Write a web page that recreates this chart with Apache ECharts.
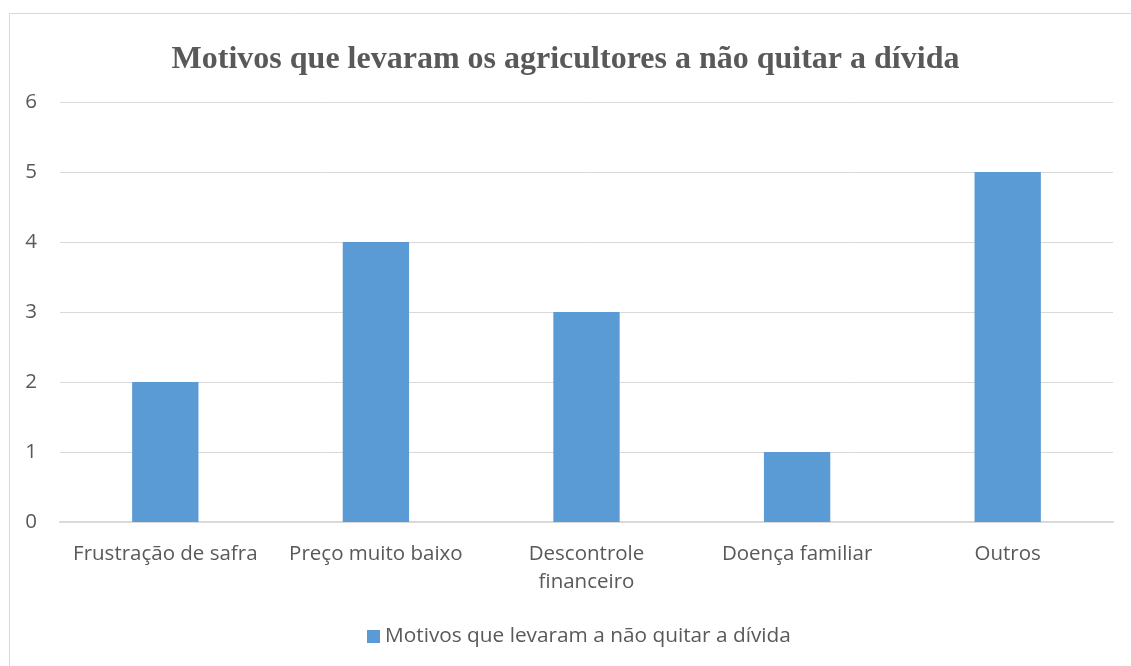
<!DOCTYPE html>
<html>
<head>
<meta charset="utf-8">
<script src="https://cdn.jsdelivr.net/npm/echarts@6/dist/echarts.min.js"></script>
<style>
  html, body { margin: 0; padding: 0; background: #fff; }
  #main { width: 1131px; height: 666px; }
</style>
</head>
<body>
<div id="main"></div>
<script>
// dados do gráfico
var titulo = 'Motivos que levaram os agricultores a não quitar a dívida';
var serieNome = 'Motivos que levaram a não quitar a dívida';
var categorias = ['Frustração de safra', 'Preço muito baixo', 'Descontrole\nfinanceiro', 'Doença familiar', 'Outros'];
var valores = [2, 4, 3, 1, 5];

var fonte = '"Open Sans", "Noto Sans", sans-serif';

var myChart = echarts.init(document.getElementById('main'));
myChart.setOption({
    animation: false,
    title: {
        text: titulo,
        left: 'center',
        top: 39,
        textStyle: {
            fontFamily: '"Liberation Serif", "Times New Roman", serif',
            fontWeight: 'bold',
            fontSize: 32,
            color: '#595959'
        }
    },
    graphic: [{
        type: 'rect',
        shape: { x: 9.5, y: 13.5, width: 1140, height: 670 },
        style: { fill: null, stroke: '#d9d9d9', lineWidth: 1 },
        silent: true
    }],
    legend: {
        bottom: 14,
        left: 362,
        itemWidth: 13,
        itemHeight: 13,
        itemGap: 6,
        icon: 'rect',
        textStyle: {
            fontFamily: fonte,
            fontSize: 20.8,
            color: '#595959'
        },
        data: [serieNome]
    },
    grid: {
        left: 60,
        right: 18,
        top: 102,
        bottom: 144
    },
    xAxis: {
        type: 'category',
        data: categorias,
        axisTick: { show: false },
        axisLine: { lineStyle: { color: '#d9d9d9', width: 2 } },
        axisLabel: {
            margin: 18,
            interval: 0,
            fontFamily: fonte,
            fontSize: 20.5,
            lineHeight: 28,
            color: '#595959'
        }
    },
    yAxis: {
        type: 'value',
        min: 0,
        max: 6,
        interval: 1,
        axisLine: { show: false },
        axisTick: { show: false },
        axisLabel: {
            margin: 23,
            fontFamily: fonte,
            fontSize: 20.5,
            color: '#595959'
        },
        splitLine: { lineStyle: { color: '#d9d9d9', width: 1 } }
    },
    series: [{
        name: serieNome,
        type: 'bar',
        data: valores,
        barWidth: '31.5%',
        itemStyle: { color: '#5b9bd5' }
    }]
});
</script>
</body>
</html>
